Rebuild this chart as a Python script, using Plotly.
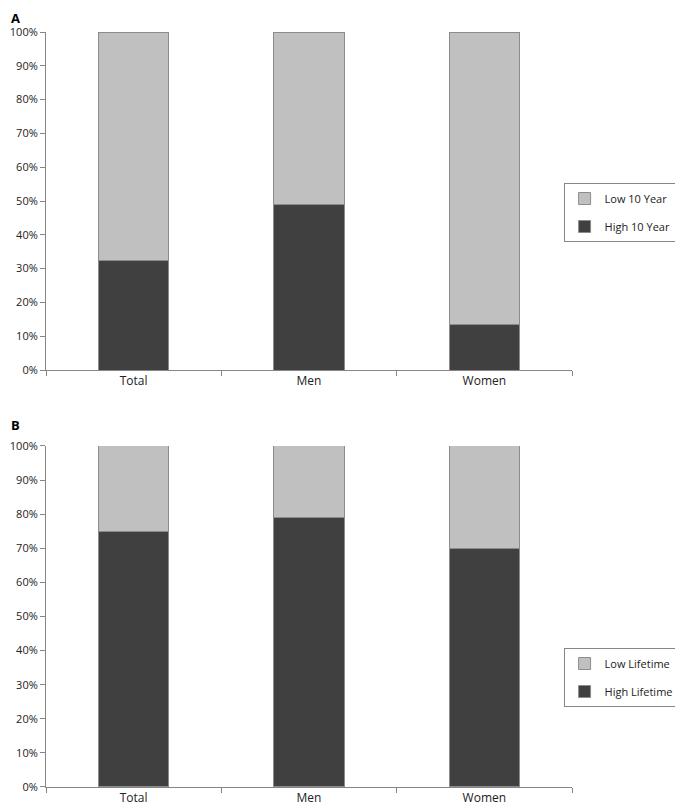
import plotly.graph_objects as go

groups = ['Total', 'Men', 'Women']

# Panel A: 10-year risk
high_10yr = [0.325, 0.49, 0.135]
low_10yr = [round(1 - v, 3) for v in high_10yr]

# Panel B: lifetime risk
high_life = [0.75, 0.79, 0.70]
low_life = [round(1 - v, 3) for v in high_life]

dark = '#404040'
light = '#c0c0c0'
edge = '#8c8c8c'
axis_col = '#868686'
font = 'Open Sans, Noto Sans, sans-serif'

fig = go.Figure()

panels = [
    ('x', 'y', 'legend', high_10yr, low_10yr, 'High 10 Year', 'Low 10 Year'),
    ('x2', 'y2', 'legend2', high_life, low_life, 'High Lifetime', 'Low Lifetime'),
]
for xa, ya, lg, high, low, high_name, low_name in panels:
    fig.add_trace(go.Bar(
        x=groups, y=high, name=high_name, xaxis=xa, yaxis=ya,
        legend=lg, legendgroup=high_name, legendrank=2,
        marker=dict(color=dark, line=dict(color=edge, width=1)),
        width=0.4,
    ))
    fig.add_trace(go.Bar(
        x=groups, y=low, name=low_name, xaxis=xa, yaxis=ya,
        legend=lg, legendgroup=low_name, legendrank=1,
        marker=dict(color=light, line=dict(color=edge, width=1)),
        width=0.4,
    ))

xaxis_style = dict(
    showline=True, linecolor=axis_col, linewidth=1,
    ticks='outside', ticklen=5, tickcolor=axis_col, tickson='boundaries',
    showgrid=False, automargin=False, tickfont=dict(size=12, color='#222'),
)
yaxis_style = dict(
    range=[0, 1], dtick=0.1, tickformat='.0%',
    showline=True, linecolor=axis_col, linewidth=1,
    ticks='outside', ticklen=5, tickcolor=axis_col,
    showgrid=False, zeroline=False, automargin=False,
    tickfont=dict(size=11, color='#222'),
)
legend_style = dict(
    x=0.984, xanchor='left', yanchor='top',
    bordercolor=axis_col, borderwidth=1, bgcolor='white',
    traceorder='grouped', tracegroupgap=9,
    font=dict(size=11, color='#222'), itemwidth=30,
)

# page body adds 8px offset; plot area on page spans x 46..572, y 32..787 (755 px)
fig.update_layout(
    barmode='stack',
    width=675, height=803,
    margin=dict(l=38, r=111, t=24, b=24, autoexpand=False),
    plot_bgcolor='white', paper_bgcolor='white',
    font=dict(family=font),
    xaxis=dict(domain=[0, 1], anchor='y', **xaxis_style),
    yaxis=dict(domain=[0.5523, 1], anchor='x', **yaxis_style),
    xaxis2=dict(domain=[0, 1], anchor='y2', **xaxis_style),
    yaxis2=dict(domain=[0, 0.4517], anchor='x2', **yaxis_style),
    legend=dict(y=0.80, **legend_style),
    legend2=dict(y=0.1841, **legend_style),
)
fig.add_annotation(text='<b>A</b>', x=-36 / 526, y=(787 - 8) / 755, xref='paper', yref='paper',
                   xanchor='left', yanchor='top', showarrow=False, borderpad=0,
                   font=dict(size=13, color='black'))
fig.add_annotation(text='<b>B</b>', x=-36 / 526, y=(787 - 425) / 755, xref='paper', yref='paper',
                   xanchor='left', yanchor='middle', showarrow=False, borderpad=0,
                   font=dict(size=13, color='black'))

fig.write_html("out.html")
